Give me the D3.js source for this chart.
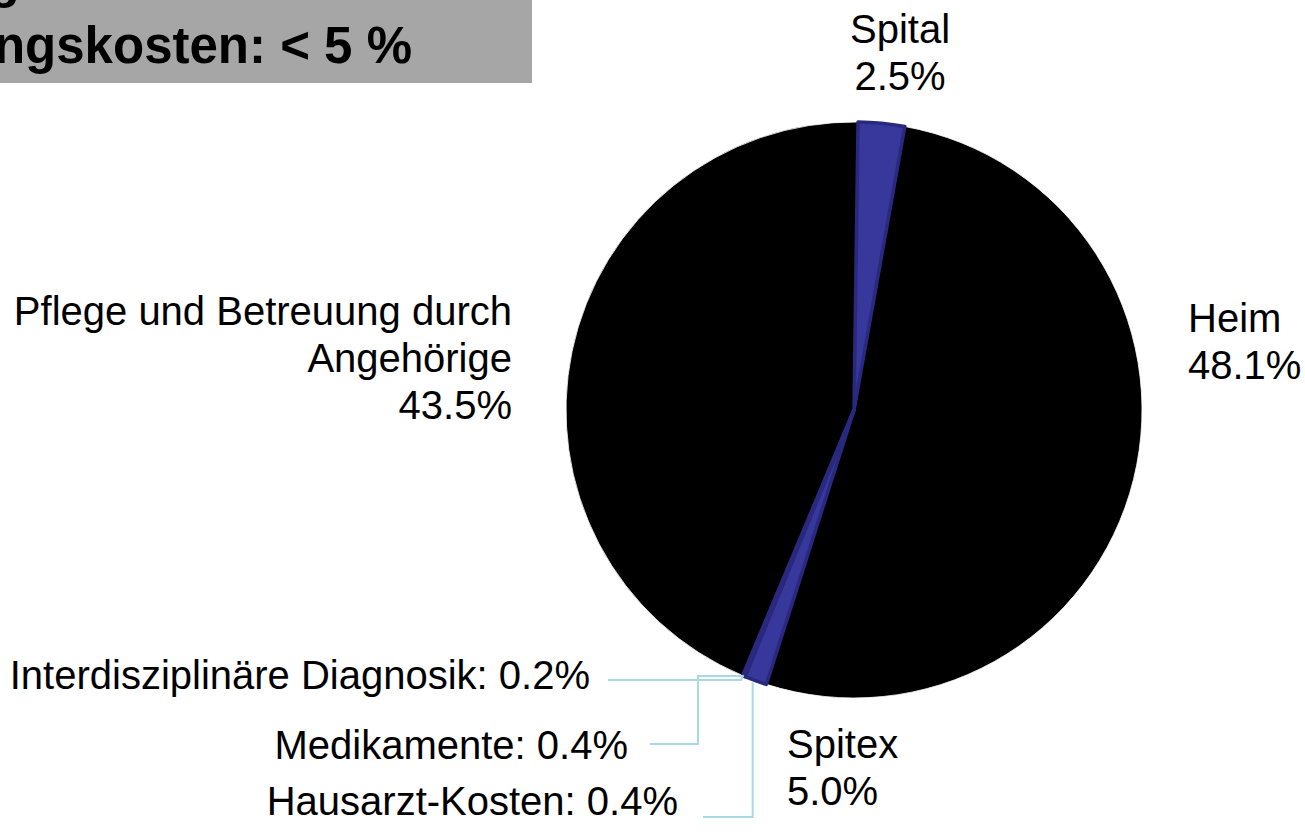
<!DOCTYPE html>
<html>
<head>
<meta charset="utf-8">
<script src="https://cdn.jsdelivr.net/npm/d3@7"></script>
<style>
  body { margin: 0; background: #fff; }
  text { font-family: "Liberation Sans", Arial, sans-serif; }
</style>
</head>
<body>
<script>
// Kategorien (im Uhrzeigersinn ab 12 Uhr)
let kategorien = ["Spital", "Heim", "Spitex", "Hausarzt-Kosten", "Medikamente",
                  "Interdisziplinäre Diagnosik", "Pflege und Betreuung durch Angehörige"]

// Prozentwerte wie beschriftet
let prozente = [2.5, 48.1, 5.0, 0.4, 0.4, 0.2, 43.5]

// Anteile wie im Bild gezeichnet (Winkel)
let anteile = [2.6, 52.1, 1.25, 0.05, 0.05, 0.05, 43.9]

let farben = ["#37379c", "#000000", "#37379c", "#37379c", "#37379c", "#37379c", "#000000"]

let breite = 1305, hoehe = 837
let cx = 854, cy = 410, radius = 288

let svg = d3.select("body")
        .append("svg")
        .attr("width", breite)
        .attr("height", hoehe)

// Titelbox oben links (im Original abgeschnitten)
svg.append("rect")
        .attr("x", 0).attr("y", 0)
        .attr("width", 532).attr("height", 83)
        .attr("fill", "#a6a6a6")

let titel = svg.append("text")
        .attr("text-anchor", "end")
        .style("font-weight", "bold")
        .style("font-size", "51px")
        .attr("fill", "#000")
titel.append("tspan").attr("x", 20).attr("y", -3).text("Gesamtkosten nach Versorgung")
titel.append("tspan").attr("x", 412).attr("y", 63).text("an den Gesamtbehandlungskosten: < 5 %")

// Pie Layout
let pie = d3.pie()
        .sort(null)
        .value(d => d.anteil)
        .startAngle(0.014)
        .endAngle(0.014 + 2 * Math.PI)

let daten = kategorien.map((k, i) => ({name: k, pct: prozente[i], anteil: anteile[i], farbe: farben[i]}))
let boegen = pie(daten)

let arc = d3.arc().innerRadius(0).outerRadius(radius)

let g = svg.append("g")
        .attr("transform", "translate(" + cx + "," + cy + ")")

// schwarze zuerst, dann blaue obendrauf
let sortiert = boegen.slice().sort((a, b) => (a.data.farbe == "#000000" ? 0 : 1) - (b.data.farbe == "#000000" ? 0 : 1))

g.selectAll("path")
        .data(sortiert)
        .join("path")
        .attr("d", arc)
        .attr("fill", d => d.data.farbe)
        .attr("stroke", d => d.data.farbe == "#000000" ? "#ffffff" : "#29297f")
        .attr("stroke-width", d => d.data.farbe == "#000000" ? 0.8 : 3.5)
        .attr("stroke-linejoin", "round")

// Beschriftungen
let schrift = 40, zeile = 47

function label(lines, x, y, anchor) {
    let t = svg.append("text")
            .attr("text-anchor", anchor)
            .style("font-size", schrift + "px")
            .attr("fill", "#000")
    lines.forEach((l, i) => {
        t.append("tspan").attr("x", x).attr("y", y + i * zeile).text(l)
    })
}

let fmt = d3.format(".1f")
label([daten[0].name, fmt(daten[0].pct) + "%"], 900, 43, "middle")
label([daten[1].name, fmt(daten[1].pct) + "%"], 1188, 332, "start")
label([daten[2].name, fmt(daten[2].pct) + "%"], 787, 758, "start")
label(["Pflege und Betreuung durch", "Angehörige", fmt(daten[6].pct) + "%"], 512, 325, "end")
label([daten[3].name + ": " + fmt(daten[3].pct) + "%"], 678, 815, "end")
label([daten[4].name + ": " + fmt(daten[4].pct) + "%"], 628, 759, "end")
label([daten[5].name + ": " + fmt(daten[5].pct) + "%"], 590, 689, "end")

// Führungslinien der kleinen Segmente
function randPunkt(b) {
    let a = (b.startAngle + b.endAngle) / 2
    return [cx + radius * Math.sin(a), cy - radius * Math.cos(a)]
}

let linie = d3.line()
let p3 = randPunkt(boegen[3]), p4 = randPunkt(boegen[4]), p5 = randPunkt(boegen[5])

let fuehrung = [
    [[703, 817], [p3[0] + 8, 817], [p3[0] + 8, p3[1] + 6]],
    [[650, 744], [698, 744], [698, p4[1]], [p4[0], p4[1]]],
    [[608, 680], [p5[0] - 2, 680], [p5[0], p5[1]]]
]

svg.append("g")
        .selectAll("path")
        .data(fuehrung)
        .join("path")
        .attr("d", d => linie(d))
        .attr("fill", "none")
        .attr("stroke", "#a8d9e0")
        .attr("stroke-width", 2)
</script>
</body>
</html>
